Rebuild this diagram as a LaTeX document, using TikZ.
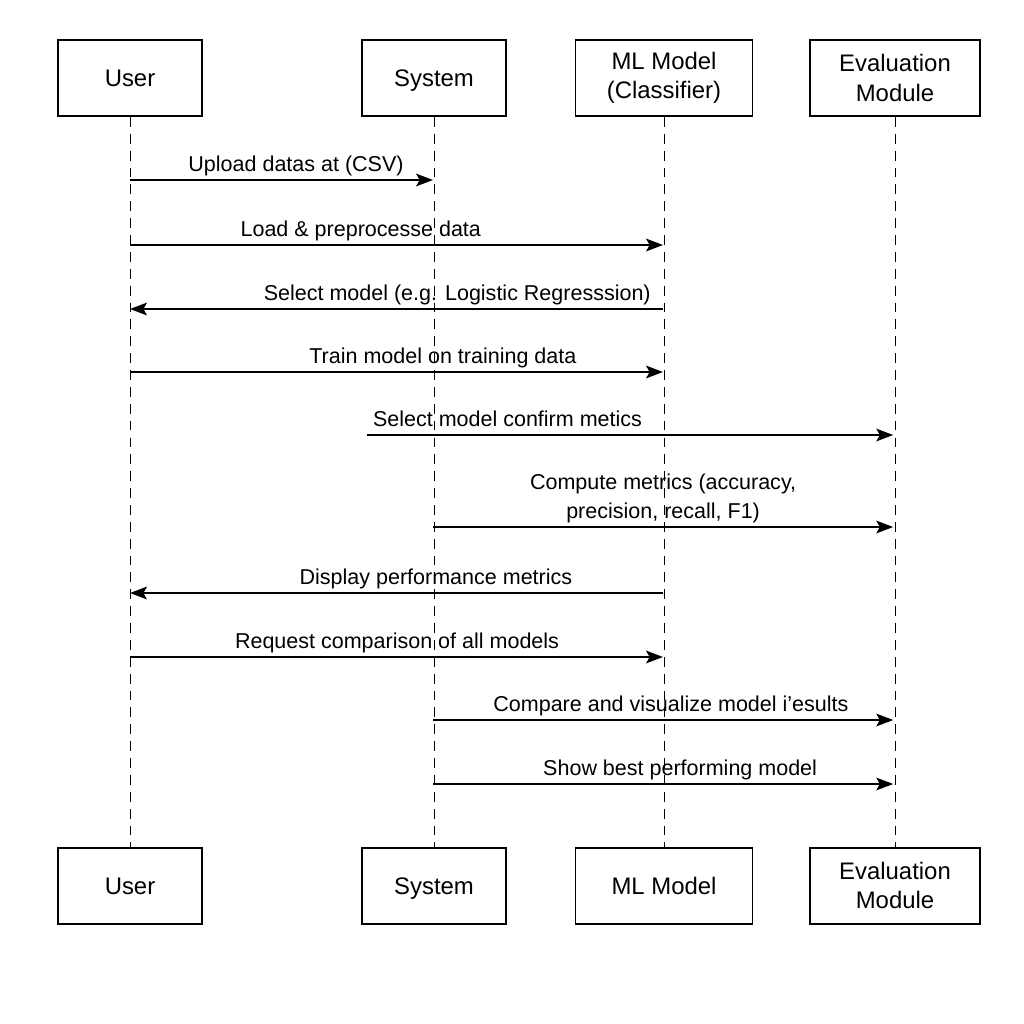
\documentclass[tikz,border=0pt]{standalone}
\usepackage{fontspec}
\setmainfont{Liberation Sans}
\usetikzlibrary{arrows.meta,positioning}

\begin{document}
\begin{tikzpicture}[>={Stealth[length=12pt,width=9pt,inset=2.5pt]}, thick,
    actor/.style={draw, line width=1.4pt, minimum height=1.9cm, align=center,
        font=\fontsize{17}{21}\selectfont},
    oneline/.style={actor, text height=13pt, text depth=1pt},
    lifeline/.style={dash pattern=on 7pt off 5pt, line width=0.7pt},
    msg/.style={->, line width=1.4pt},
    lbl/.style={anchor=base, yshift=6.4pt, font=\fontsize{15.3}{20}\selectfont}]

    \useasboundingbox (0,0) rectangle (25.6,-25.6);

    % Participants (top)
    \node[oneline, minimum width=3.6cm] (userT) at (3.25,-1.95) {User};
    \node[oneline, minimum width=3.6cm] (sysT) at (10.85,-1.95) {System};
    \node[actor, minimum width=4.425cm] (mlT) at (16.6,-1.95) {ML Model\\(Classifier)};
    \node[actor, minimum width=4.25cm] (evalT) at (22.375,-1.95) {Evaluation\\Module};

    % Participants (bottom)
    \node[oneline, minimum width=3.6cm] (userB) at (3.25,-22.14) {User};
    \node[oneline, minimum width=3.6cm] (sysB) at (10.85,-22.14) {System};
    \node[oneline, minimum width=4.425cm] (mlB) at (16.6,-22.14) {ML Model};
    \node[actor, minimum width=4.25cm] (evalB) at (22.375,-22.14) {Evaluation\\Module};

    % Lifelines
    \draw[lifeline] (userT) -- (userB);
    \draw[lifeline] (sysT) -- (sysB);
    \draw[lifeline] (mlT) -- (mlB);
    \draw[lifeline] (evalT) -- (evalB);

    % Message end points
    \coordinate (m1u) at (3.25,-4.5);     \coordinate (m1s) at (10.825,-4.5);
    \coordinate (m2u) at (3.25,-6.125);   \coordinate (m2m) at (16.575,-6.125);
    \coordinate (m3u) at (3.25,-7.725);   \coordinate (m3m) at (16.575,-7.725);
    \coordinate (m4u) at (3.25,-9.3);     \coordinate (m4m) at (16.575,-9.3);
    \coordinate (m5s) at (9.175,-10.875); \coordinate (m5e) at (22.33,-10.875);
    \coordinate (m6s) at (10.825,-13.175); \coordinate (m6e) at (22.33,-13.175);
    \coordinate (m7u) at (3.25,-14.825);  \coordinate (m7m) at (16.575,-14.825);
    \coordinate (m8u) at (3.25,-16.425);  \coordinate (m8m) at (16.575,-16.425);
    \coordinate (m9s) at (10.825,-18.0);  \coordinate (m9e) at (22.33,-18.0);
    \coordinate (m10s) at (10.825,-19.6); \coordinate (m10e) at (22.33,-19.6);

    % Messages
    \draw[msg] (m1u) -- (m1s) node[lbl, pos=0.548] {Upload datas at (CSV)};
    \draw[msg] (m2u) -- (m2m) node[lbl, pos=0.433] {Load \& preprocesse data};
    \draw[msg] (m3m) -- (m3u) node[lbl, pos=0.386] {Select model (e.g. Logistic Regresssion)};
    \draw[msg] (m4u) -- (m4m) node[lbl, pos=0.587] {Train model on training data};
    \draw[msg] (m5s) -- (m5e) node[lbl, pos=0.267] {Select model confirm metics};
    \draw[msg] (m6s) -- (m6e) node[lbl, pos=0.5, align=center]
        {Compute metrics (accuracy,\\ precision, recall, F1)};
    \draw[msg] (m7m) -- (m7u) node[lbl, pos=0.426] {Display performance metrics};
    \draw[msg] (m8u) -- (m8m) node[lbl, pos=0.501] {Request comparison of all models};
    \draw[msg] (m9s) -- (m9e) node[lbl, pos=0.517] {Compare and visualize model i'esults};
    \draw[msg] (m10s) -- (m10e) node[lbl, pos=0.537] {Show best performing model};

\end{tikzpicture}
\end{document}
